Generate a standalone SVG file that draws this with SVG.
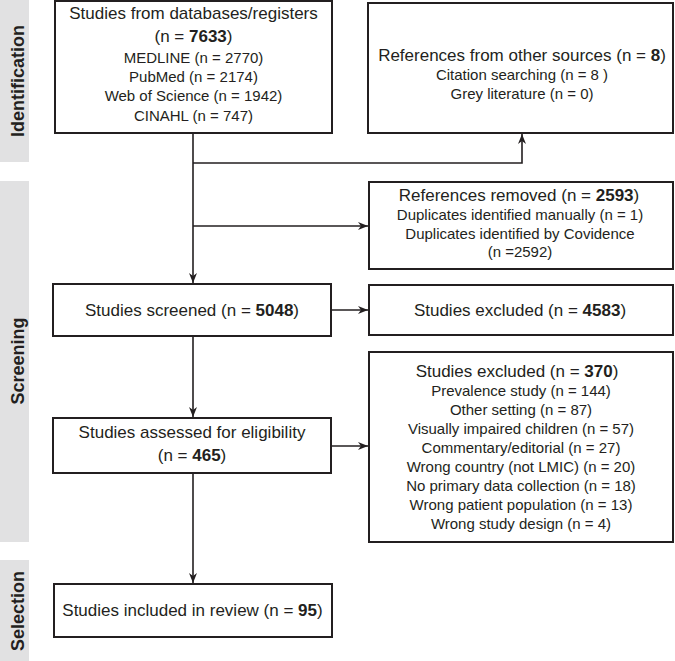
<svg xmlns="http://www.w3.org/2000/svg" width="675" height="661" viewBox="0 0 675 661">
<style>
.band{fill:#e1e1e2}
.box{fill:#fff;stroke:#231f20;stroke-width:2}
.con{fill:none;stroke:#231f20;stroke-width:1.6}
text{font-family:"Liberation Sans",Arial,sans-serif;fill:#231f20;text-anchor:middle}
.t{font-size:17px}
.s{font-size:15px}
.b{font-weight:bold}
.side{font-size:18px;font-weight:bold}
</style>
<defs>
<marker id="ah" markerUnits="userSpaceOnUse" markerWidth="10" markerHeight="10" viewBox="0 0 10 10" refX="10" refY="5" orient="auto">
<path d="M0,1 L10,5 L0,9 L3,5 Z" fill="#231f20"/>
</marker>
</defs>
<g id="bands">
<rect class="band" x="0" y="0" width="29" height="162"/>
<rect class="band" x="0" y="181" width="29" height="361"/>
<rect class="band" x="0" y="560" width="29" height="101"/>
<text class="side" transform="translate(24,81) rotate(-90)">Identification</text>
<text class="side" transform="translate(24,361) rotate(-90)">Screening</text>
<text class="side" transform="translate(24,611) rotate(-90)">Selection</text>
</g>
<g id="connectors">
<path class="con" d="M193 133 V283" marker-end="url(#ah)"/>
<path class="con" d="M193 163 H522 V134" marker-end="url(#ah)"/>
<path class="con" d="M193 226 H368" marker-end="url(#ah)"/>
<path class="con" d="M331 310 H368" marker-end="url(#ah)"/>
<path class="con" d="M193 336 V417" marker-end="url(#ah)"/>
<path class="con" d="M331 446 H368" marker-end="url(#ah)"/>
<path class="con" d="M193 473 V583" marker-end="url(#ah)"/>
</g>
<g id="databases">
<rect class="box" x="55" y="1" width="277" height="132"/>
<text class="t" x="193.5" y="19">Studies from databases/registers</text>
<text class="t" x="193.5" y="42">(n = <tspan class="b">7633</tspan>)</text>
<text class="s" x="193.5" y="63">MEDLINE (n = 2770)</text>
<text class="s" x="193.5" y="82">PubMed (n = 2174)</text>
<text class="s" x="193.5" y="101">Web of Science (n = 1942)</text>
<text class="s" x="193.5" y="121">CINAHL (n = 747)</text>
</g>
<g id="other-sources">
<rect class="box" x="368" y="3" width="305" height="130"/>
<text class="t" x="522" y="61">References from other sources (n = <tspan class="b">8</tspan>)</text>
<text class="s" x="522" y="80">Citation searching (n = 8 )</text>
<text class="s" x="522" y="99">Grey literature (n = 0)</text>
</g>
<g id="removed">
<rect class="box" x="369" y="182" width="304" height="87"/>
<text class="t" x="519" y="201">References removed (n = <tspan class="b">2593</tspan>)</text>
<text class="s" x="520" y="220">Duplicates identified manually (n = 1)</text>
<text class="s" x="520" y="239">Duplicates identified by Covidence</text>
<text class="s" x="520" y="257">(n =2592)</text>
</g>
<g id="screened">
<rect class="box" x="53" y="284" width="278" height="52"/>
<text class="t" x="192" y="316">Studies screened (n = <tspan class="b">5048</tspan>)</text>
</g>
<g id="excluded-4583">
<rect class="box" x="369" y="285" width="304" height="50"/>
<text class="t" x="520" y="316">Studies excluded (n = <tspan class="b">4583</tspan>)</text>
</g>
<g id="assessed">
<rect class="box" x="53" y="418" width="278" height="55"/>
<text class="t" x="192" y="438">Studies assessed for eligibility</text>
<text class="t" x="192" y="461">(n = <tspan class="b">465</tspan>)</text>
</g>
<g id="excluded-370">
<rect class="box" x="369" y="352" width="304" height="190"/>
<text class="t" x="517" y="377">Studies excluded (n = <tspan class="b">370</tspan>)</text>
<text class="s" x="521" y="396">Prevalence study (n = 144)</text>
<text class="s" x="521" y="415">Other setting (n = 87)</text>
<text class="s" x="521" y="434">Visually impaired children (n = 57)</text>
<text class="s" x="521" y="453">Commentary/editorial (n = 27)</text>
<text class="s" x="521" y="472">Wrong country (not LMIC) (n = 20)</text>
<text class="s" x="521" y="491">No primary data collection (n = 18)</text>
<text class="s" x="521" y="510">Wrong patient population (n = 13)</text>
<text class="s" x="521" y="529">Wrong study design (n = 4)</text>
</g>
<g id="included">
<rect class="box" x="54" y="584" width="278" height="53"/>
<text class="t" x="192.5" y="616">Studies included in review (n = <tspan class="b">95</tspan>)</text>
</g>
</svg>
